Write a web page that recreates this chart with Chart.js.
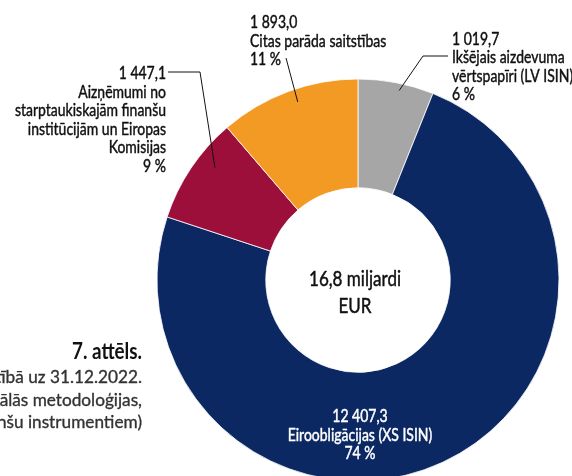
<!DOCTYPE html>
<html>
<head>
<meta charset="utf-8">
<script src="https://cdn.jsdelivr.net/npm/chart.js@4"></script>
<style>
html,body{margin:0;padding:0;background:#fff;overflow:hidden;width:572px;height:476px;}
#wrap{position:absolute;left:0;top:0;width:572px;height:560px;}
</style>
</head>
<body>
<div id="wrap"><canvas id="c" width="572" height="560"></canvas></div>
<script>
// ---- data ----
const categories = [
  ["Ikšējais aizdevuma", "vērtspapīri (LV ISIN)"],
  ["Eiroobligācijas (XS ISIN)"],
  ["Aizņēmumi no", "starptaukiskajām finanšu", "institūcijām un Eiropas", "Komisijas"],
  ["Citas parāda saitstības"]
];
const values = [1019.7, 12407.3, 1447.1, 1893.0];
const colors = ["#a6a6a6", "#0b2862", "#9c0f3a", "#f39a24"];
const centerUnit = ["miljardi", "EUR"];
const titleText = "7. attēls.";
const subtitleLines = [
  "Valdības parāda portfeļa struktūra nominālvērtībā uz 31.12.2022.",
  "(saskaņā ar nacionālās metodoloģijas,",
  "sadalījumā pa finanšu instrumentiem)"
];

// ---- helpers ----
const total = values.reduce((a, b) => a + b, 0);
function fmtNum(v) {
  const parts = v.toFixed(1).split(".");
  const int = parts[0].replace(/\B(?=(\d{3})+(?!\d))/g, " ");
  return int + "," + parts[1];
}
function pct(v) { return Math.round(v / total * 100) + " %"; }

const FAMILY = "Lato, 'Open Sans', 'Noto Sans', sans-serif";
const scaleCache = {};
function fitScale(ctx, font, ref, target) {
  const key = font + "|" + ref;
  if (scaleCache[key]) return scaleCache[key];
  ctx.save(); ctx.font = font;
  const w = ctx.measureText(ref).width;
  ctx.restore();
  return (scaleCache[key] = target / w);
}
function drawText(ctx, text, x, y, st) {
  ctx.save();
  ctx.font = st.font;
  ctx.fillStyle = st.color;
  ctx.strokeStyle = st.color;
  ctx.lineWidth = st.stroke || 0;
  ctx.lineJoin = "round";
  ctx.textAlign = st.align;
  ctx.textBaseline = "alphabetic";
  ctx.translate(x, y);
  ctx.scale(st.sx, 1);
  ctx.fillText(text, 0, 0);
  if (st.stroke) ctx.strokeText(text, 0, 0);
  ctx.restore();
}

// label layout (positions only)
const labelLayout = [
  { x: 452, y: 45, step: 18.4, align: "left", color: "#111", lead: [[448, 56], [423, 56]], t: 0.56, r: 0.965 },
  { x: 360, y: 422, step: 18.7, align: "center", color: "#ffffff", lead: null },
  { x: 166, y: 79, step: 18.6, align: "right", color: "#111", lead: [[168, 72], [200, 72]], t: 0.64, r: 0.905 },
  { x: 250, y: 28, step: 18.5, align: "left", color: "#111", lead: [[286, 58]], t: 0.54, r: 0.935 }
];

const labelPlugin = {
  id: "labels",
  afterDraw(chart) {
    const ctx = chart.ctx;
    const meta = chart.getDatasetMeta(0);
    const lblFont = "17px " + FAMILY;
    const lblSx = fitScale(ctx, lblFont, "starptaukiskajām finanšu", 151);
    const lblStyle = (align, color) => ({ font: lblFont, sx: lblSx, align, color, stroke: 0.45 });

    // leader lines
    ctx.save();
    ctx.strokeStyle = "#111";
    ctx.lineWidth = 1;
    labelLayout.forEach((L, i) => {
      if (!L.lead) return;
      const arc = meta.data[i];
      const p = arc.getProps(["x", "y", "startAngle", "endAngle", "outerRadius"], true);
      const a = p.startAngle + (p.endAngle - p.startAngle) * L.t;
      const rr = p.outerRadius * L.r;
      ctx.beginPath();
      ctx.moveTo(L.lead[0][0], L.lead[0][1]);
      for (let k = 1; k < L.lead.length; k++) ctx.lineTo(L.lead[k][0], L.lead[k][1]);
      ctx.lineTo(p.x + Math.cos(a) * rr, p.y + Math.sin(a) * rr);
      ctx.stroke();
    });
    ctx.restore();

    // segment labels
    labelLayout.forEach((L, i) => {
      const lines = [fmtNum(values[i])].concat(categories[i], [pct(values[i])]);
      lines.forEach((ln, k) => drawText(ctx, ln, L.x, L.y + k * L.step, lblStyle(L.align, L.color)));
    });

    // center label
    const cFont = "22px " + FAMILY;
    const cSx = fitScale(ctx, cFont, "16,8 miljardi", 92);
    const totalTxt = (total / 1000).toFixed(1).replace(".", ",") + " " + centerUnit[0];
    drawText(ctx, totalTxt, 355, 286, { font: cFont, sx: cSx, align: "center", color: "#111", stroke: 0.5 });
    drawText(ctx, centerUnit[1], 355, 313, { font: cFont, sx: cSx, align: "center", color: "#111", stroke: 0.5 });

    // title
    const tFont = "bold 22px " + FAMILY;
    const tSx = fitScale(ctx, tFont, "7. attēls.", 70);
    drawText(ctx, titleText, 142, 359, { font: tFont, sx: tSx, align: "right", color: "#111" });
    const sFont = "18px " + FAMILY;
    const sSx = fitScale(ctx, sFont, "tībā uz 31.12.2022.", 147);
    subtitleLines.forEach((ln, k) =>
      drawText(ctx, ln, 142, 383 + k * 22.5, { font: sFont, sx: sSx, align: "right", color: "#333", stroke: 0.35 }));
  }
};

new Chart(document.getElementById("c"), {
  type: "doughnut",
  data: {
    labels: categories.map(c => c.join(" ")),
    datasets: [{
      data: values,
      backgroundColor: colors,
      borderColor: "#ffffff",
      borderWidth: 0.8,
      hoverOffset: 0
    }]
  },
  options: {
    responsive: false,
    animation: false,
    devicePixelRatio: 1,
    radius: 201,
    cutout: 98,
    rotation: 0,
    layout: { padding: { left: 144, right: 0, top: 0, bottom: 0 } },
    plugins: { legend: { display: false }, tooltip: { enabled: false } }
  },
  plugins: [labelPlugin]
});
</script>
</body>
</html>
